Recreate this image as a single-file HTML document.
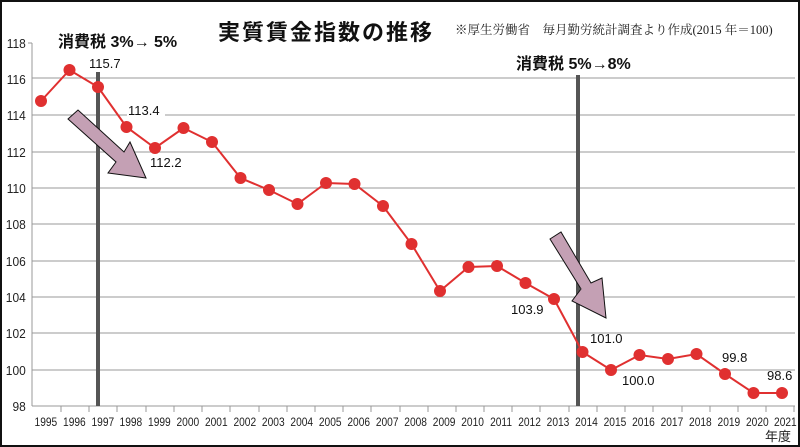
<!DOCTYPE html>
<html><head><meta charset="utf-8"><style>
html,body{margin:0;padding:0;background:#fff}
svg{display:block}
</style></head><body>
<svg width="800" height="447" viewBox="0 0 800 447" xmlns="http://www.w3.org/2000/svg" font-family="Liberation Sans, Noto Sans CJK JP, sans-serif">
<rect x="1" y="1" width="798" height="445" fill="#fff" stroke="#111" stroke-width="2"/>
<g stroke="#999" stroke-width="1">
<line x1="32" y1="78" x2="795" y2="78"/>
<line x1="32" y1="115" x2="795" y2="115"/>
<line x1="32" y1="152" x2="795" y2="152"/>
<line x1="32" y1="188" x2="795" y2="188"/>
<line x1="32" y1="224" x2="795" y2="224"/>
<line x1="32" y1="261" x2="795" y2="261"/>
<line x1="32" y1="297" x2="795" y2="297"/>
<line x1="32" y1="333" x2="795" y2="333"/>
<line x1="32" y1="370" x2="795" y2="370"/>
<line x1="32" y1="406" x2="795" y2="406"/>
</g>
<line x1="32" y1="43" x2="32" y2="406" stroke="#999"/>
<g stroke="#999"><line x1="28" y1="43" x2="32" y2="43"/></g>
<g font-size="13" fill="#222" text-anchor="end" transform="scale(0.92,1)">
<text x="28" y="48">118</text><text x="28" y="84">116</text><text x="28" y="120">114</text>
<text x="28" y="157">112</text><text x="28" y="193">110</text><text x="28" y="229">108</text>
<text x="28" y="266">106</text><text x="28" y="302">104</text><text x="28" y="338">102</text>
<text x="28" y="375">100</text><text x="28" y="411">98</text>
</g>
<g font-size="12" fill="#222" text-anchor="middle" transform="scale(0.85,1)">
<text x="54" y="426">1995</text><text x="87.5" y="426">1996</text><text x="121" y="426">1997</text>
<text x="154" y="426">1998</text><text x="187.5" y="426">1999</text><text x="221" y="426">2000</text>
<text x="254.5" y="426">2001</text><text x="288" y="426">2002</text><text x="321.5" y="426">2003</text>
<text x="355" y="426">2004</text><text x="388.5" y="426">2005</text><text x="422" y="426">2006</text>
<text x="455.5" y="426">2007</text><text x="489" y="426">2008</text><text x="522.5" y="426">2009</text>
<text x="556" y="426">2010</text><text x="589.5" y="426">2011</text><text x="623" y="426">2012</text>
<text x="656.5" y="426">2013</text><text x="690" y="426">2014</text><text x="723.5" y="426">2015</text>
<text x="757" y="426">2016</text><text x="790.5" y="426">2017</text><text x="824" y="426">2018</text>
<text x="857.5" y="426">2019</text><text x="891" y="426">2020</text><text x="924" y="426">2021</text>
</g>
<g stroke="#999">
<line x1="61" y1="406" x2="61" y2="412"/><line x1="89" y1="406" x2="89" y2="412"/><line x1="117" y1="406" x2="117" y2="412"/>
<line x1="146" y1="406" x2="146" y2="412"/><line x1="174" y1="406" x2="174" y2="412"/><line x1="202" y1="406" x2="202" y2="412"/>
<line x1="230" y1="406" x2="230" y2="412"/><line x1="259" y1="406" x2="259" y2="412"/><line x1="287" y1="406" x2="287" y2="412"/>
<line x1="315" y1="406" x2="315" y2="412"/><line x1="343" y1="406" x2="343" y2="412"/><line x1="371" y1="406" x2="371" y2="412"/>
<line x1="400" y1="406" x2="400" y2="412"/><line x1="428" y1="406" x2="428" y2="412"/><line x1="456" y1="406" x2="456" y2="412"/>
<line x1="484" y1="406" x2="484" y2="412"/><line x1="512" y1="406" x2="512" y2="412"/><line x1="540" y1="406" x2="540" y2="412"/>
<line x1="569" y1="406" x2="569" y2="412"/><line x1="597" y1="406" x2="597" y2="412"/><line x1="625" y1="406" x2="625" y2="412"/>
<line x1="653" y1="406" x2="653" y2="412"/><line x1="682" y1="406" x2="682" y2="412"/><line x1="710" y1="406" x2="710" y2="412"/>
<line x1="738" y1="406" x2="738" y2="412"/><line x1="766" y1="406" x2="766" y2="412"/><line x1="794" y1="406" x2="794" y2="412"/>
</g>
<text x="778" y="441" font-size="13" fill="#222" text-anchor="middle">年度</text>
<rect x="96" y="72" width="4" height="334" fill="#555"/>
<rect x="576" y="75" width="4" height="331" fill="#555"/>
<text x="218" y="40" font-size="22" font-weight="bold" fill="#111" letter-spacing="2">実質賃金指数の推移</text>
<text x="455" y="34" font-size="12.5" fill="#222" font-family="Liberation Serif, Noto Serif CJK SC, serif">※厚生労働省　毎月勤労統計調査より作成(2015 年＝100)</text>
<text x="58" y="47" font-size="16" font-weight="bold" fill="#111">消費税 3%→ 5%</text>
<text x="516" y="69" font-size="16" font-weight="bold" fill="#111">消費税 5%→8%</text>
<polygon points="68,119 78,110 124,152 130,142 146,178 108,173 116,162" fill="#c4a0b4" stroke="#111" stroke-width="1"/>
<polygon points="550,239 561,232 591,283 602,278 606,318 572,301 581,289" fill="#c4a0b4" stroke="#111" stroke-width="1"/>
<polyline fill="none" stroke="#e03030" stroke-width="2" points="41,101 69.5,70 98,87 126.5,127 155,148 183.5,128 212,142 240.5,178 269,190 297.5,204 326,183 354.5,184 383,206 411.5,244 440,291 468.5,267 497,266 525.5,283 554,299 582.5,352 611,370 639.5,355 668,359 696.5,354 725,374 753.5,393 782,393"/>
<g fill="#e03030">
<circle cx="41" cy="101" r="6"/><circle cx="69.5" cy="70" r="6"/><circle cx="98" cy="87" r="6"/>
<circle cx="126.5" cy="127" r="6"/><circle cx="155" cy="148" r="6"/><circle cx="183.5" cy="128" r="6"/>
<circle cx="212" cy="142" r="6"/><circle cx="240.5" cy="178" r="6"/><circle cx="269" cy="190" r="6"/>
<circle cx="297.5" cy="204" r="6"/><circle cx="326" cy="183" r="6"/><circle cx="354.5" cy="184" r="6"/>
<circle cx="383" cy="206" r="6"/><circle cx="411.5" cy="244" r="6"/><circle cx="440" cy="291" r="6"/>
<circle cx="468.5" cy="267" r="6"/><circle cx="497" cy="266" r="6"/><circle cx="525.5" cy="283" r="6"/>
<circle cx="554" cy="299" r="6"/><circle cx="582.5" cy="352" r="6"/><circle cx="611" cy="370" r="6"/>
<circle cx="639.5" cy="355" r="6"/><circle cx="668" cy="359" r="6"/><circle cx="696.5" cy="354" r="6"/>
<circle cx="725" cy="374" r="6"/><circle cx="753.5" cy="393" r="6"/><circle cx="782" cy="393" r="6"/>
</g>
<g font-size="13" fill="#111">
<rect x="88" y="56" width="38" height="14" fill="#fff"/>
<text x="89" y="68">115.7</text>
<rect x="127" y="103" width="38" height="14" fill="#fff"/>
<text x="128" y="115">113.4</text>
<text x="150" y="167">112.2</text>
<text x="511" y="314">103.9</text>
<text x="590" y="343">101.0</text>
<text x="622" y="385">100.0</text>
<text x="722" y="362">99.8</text>
<text x="767" y="380">98.6</text>
</g>
</svg>
</body></html>
